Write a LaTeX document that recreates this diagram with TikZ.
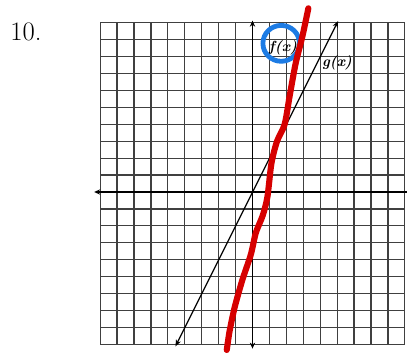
\documentclass[tikz,border=0pt]{standalone}
\usetikzlibrary{arrows.meta}
\definecolor{penred}{HTML}{D60000}
\definecolor{penblue}{HTML}{1C7BE4}
\tikzset{
  gridline/.style={black!75, line width=0.9pt},
  axisline/.style={black, line width=1.3pt, {Stealth[length=4.5pt,width=4pt]}-{Stealth[length=4.5pt,width=4pt]}},
  fnline/.style={black, line width=0.9pt, {Stealth[length=5pt,width=4pt]}-{Stealth[length=5pt,width=4pt]}},
  fnlabel/.style={font=\fontsize{11}{12}\selectfont\bfseries\itshape, inner sep=0pt},
  redpen/.style={penred, line width=4.6pt, line cap=round, line join=round},
  bluepen/.style={penblue, line width=3.6pt},
}
\begin{document}
\begin{tikzpicture}[x=12.7pt,y=12.7pt]
\useasboundingbox (-14.914,-9.569) rectangle (9.126,11.341);
% grid
\draw[gridline, step=1] (-9,-9) grid (9,10);
% axes
\coordinate (xl) at (-9.35,0);
\coordinate (xr) at (9.2,0);
\coordinate (yb) at (0,-9.25);
\coordinate (yt) at (0,10.12);
\draw[black, line width=1.3pt, {Stealth[length=4.5pt,width=4pt]}-] (xl) -- (xr);
\draw[axisline] (yb) -- (yt);
% g(x)
\coordinate (gb) at (-4.55,-9.12);
\coordinate (gt) at (5.06,10.1);
\draw[fnline] (gb) -- (gt);
\node[fnlabel] (glab) at (4.99,7.62) {g(x)};
\node[fnlabel] (flab) at (1.80,8.52) {f(x)};
% number
\node[anchor=base west, inner sep=0pt, font=\fontsize{20}{24}\selectfont] (num) at (-14.32,8.92) {10.};
% blue circle
\draw[bluepen] (1.695,8.78) ellipse [x radius=1.08, y radius=1.06];
% red curve
\draw[redpen] plot[smooth, tension=0.45] coordinates {
  (3.3,10.85) (2.95,9.2) (2.55,7.6) (2.2,5.7) (1.9,4.0) (1.45,3.0)
  (1.12,1.7) (0.88,-0.3) (0.6,-1.4) (0.2,-2.4) (-0.1,-3.7)
  (-0.6,-5.2) (-1.05,-6.8) (-1.35,-8.2) (-1.52,-9.33)};
\end{tikzpicture}
\end{document}
